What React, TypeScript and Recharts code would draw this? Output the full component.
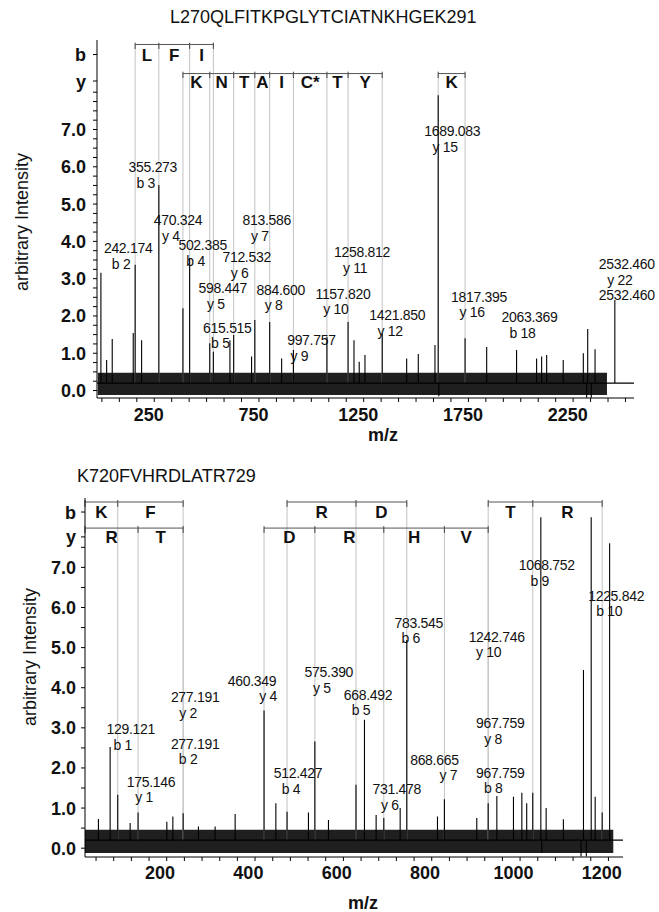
import React from "react";
import {
  ComposedChart,
  Line,
  XAxis,
  YAxis,
  ReferenceLine,
  ReferenceArea,
  Scatter,
} from "recharts";

const FONT = '"Liberation Sans", Arial, Helvetica, sans-serif';

// ---------- top spectrum: L270QLFITKPGLYTCIATNKHGEK291 ----------
// [m/z, intensity] (negative = downward spikes)
const topPeaks: [number, number][] = [
  [78.7, 3.16], [106, 0.82], [132.7, 1.38], [233, 1.54], [242.174, 3.37],
  [273, 1.35], [355.273, 5.51], [470.324, 2.21], [502.385, 3.55],
  [598.447, 1.27], [615.515, 1.04], [694.7, 1.35], [712.532, 1.49],
  [798, 0.91], [813.586, 1.89], [884.6, 1.84], [941.6, 0.86], [997.757, 1.09],
  [1157.82, 1.44], [1258.812, 1.84], [1287, 1.35], [1312, 0.77],
  [1339.5, 0.95], [1421.85, 1.53], [1538.6, 0.86], [1594, 0.98],
  [1673.7, 1.22], [1689.083, 7.92], [1692, -0.15], [1817.395, 1.4],
  [1920.6, 1.17], [2063.369, 1.09], [2159, 0.86], [2183, 0.91], [2207, 0.95],
  [2286, 0.82], [2382, 1.0], [2398, -0.19], [2403, 1.65], [2420, -0.19],
  [2438, 1.11], [2532.46, 2.43],
];
const topMasses = [
  242.174, 355.273, 470.324, 502.385, 598.447, 615.515, 712.532, 813.586,
  884.6, 997.757, 1157.82, 1258.812, 1421.85, 1689.083, 1817.395, 2063.369,
  2532.46,
];
const topIons = [
  ["b 2"], ["b 3"], ["y 4"], ["b 4"], ["y 5"], ["b 5"], ["y 6"], ["y 7"],
  ["y 8"], ["y 9"], ["y 10"], ["y 11"], ["y 12"], ["y 15"], ["y 16"],
  ["b 18"], ["y 22", "2532.460"],
];
const topBLadder = [{ marks: [242.174, 355.273, 502.385, 615.515], res: ["L", "F", "I"] }];
const topYLadder = [
  {
    marks: [470.324, 598.447, 712.532, 813.586, 884.6, 997.757, 1157.82, 1258.812, 1421.85],
    res: ["K", "N", "T", "A", "I", "C*", "T", "Y"],
  },
  { marks: [1689.083, 1817.395], res: ["K"] },
];

// ---------- bottom spectrum: K720FVHRDLATR729 ----------
const botPeaks: [number, number][] = [
  [85.4, 0.73], [111.9, 2.52], [129.121, 1.33], [157.2, 0.63], [175.146, 0.89],
  [240.3, 0.66], [253.9, 0.79], [277.191, 0.87], [311.8, 0.54], [349.6, 0.54],
  [394.9, 0.85], [460.349, 3.43], [487.1, 1.12], [512.427, 0.91], [560.9, 0.89],
  [575.39, 2.66], [606.2, 0.7], [668.492, 1.58], [687.7, 3.2], [714.1, 0.83],
  [731.478, 0.75], [768.5, 1.0], [783.545, 5.19], [853, 0.79], [868.665, 1.22],
  [942, 0.75], [967.759, 1.12], [987.4, 1.3], [1025, 1.28], [1044, 1.38],
  [1055, 1.12], [1068.752, 1.38], [1087, 8.25], [1089, -0.12], [1099, 1.0],
  [1138, 0.72], [1178, -0.21], [1183.5, 4.44], [1190, -0.21], [1201, 8.25],
  [1210, 1.28], [1225.842, 0.89], [1242.746, 7.6],
];
const botMasses = [
  129.121, 175.146, 277.191, 277.191, 460.349, 512.427, 575.39, 668.492,
  731.478, 783.545, 868.665, 967.759, 967.759, 1068.752, 1242.746, 1225.842,
];
const botIons = [
  ["b 1"], ["y 1"], ["y 2"], ["b 2"], ["y 4"], ["b 4"], ["y 5"], ["b 5"],
  ["y 6"], ["b 6"], ["y 7"], ["y 8"], ["b 8"], ["b 9"], ["y 10"], ["b 10"],
];
// null = N-/C-terminus, drawn from the axis
const botBLadder = [
  { marks: [null, 129.121, 277.191], res: ["K", "F"] },
  { marks: [512.427, 668.492, 783.545], res: ["R", "D"] },
  { marks: [967.759, 1068.752, 1225.842], res: ["T", "R"] },
];
const botYLadder = [
  { marks: [null, 175.146, 277.191], res: ["R", "T"] },
  { marks: [460.349, 575.39, 731.478, 868.665, 967.759], res: ["D", "R", "H", "V"] },
];

// ---------- layout ----------
// label placement: [dx px, intensity of first line, ion dx px]
const topLabelPlace: [number, number, number][] = [
  [-7, 3.82, -7], [-6, 5.99, -7], [-5, 4.57, -7], [13, 3.9, -7], [13, 2.75, -7],
  [14, 1.68, -7], [13, 3.58, -7], [12, 4.57, -7], [11, 2.7, -7], [18, 1.35, -12],
  [16, 2.6, -7], [14, 3.71, -7], [15, 2.02, -7], [14, 6.96, -7], [14, 2.51, -7],
  [13, 1.97, -7], [12, 3.39, -7],
];
const botLabelPlace: [number, number, number][] = [
  [13, 2.97, -8], [13, 1.66, -7], [12, 3.76, -7], [12, 2.6, -7], [-12, 4.18, 16],
  [11, 1.87, -7], [14, 4.39, -7], [12, 3.82, -7], [13, 1.47, -7], [12, 5.62, -8],
  [-10, 2.2, 14], [12, 3.11, -7], [12, 1.88, -7], [14, 7.05, -7], [-113, 5.27, -8],
  [14, 6.29, -7],
];

const TOP = {
  x: [60, 2624] as [number, number],
  y: [-0.2, 9.4] as [number, number],
  base: 0.2,
  band: [64, 2495, -0.12, 0.48],
  rows: { b: [9.28, 9.01], y: [8.5, 8.29] },
  xTicks: Array.from({ length: 31 }, (_, k) => ((k + 1) * 250) / 3),
  isMajorX: (v: number) => Math.abs((v - 250) / 500 - Math.round((v - 250) / 500)) < 1e-6,
  yTicks: [...Array.from({ length: 33 }, (_, k) => k * 0.25), 8.3, 9.01],
  yNames: { 8.3: "y", 9.01: "b" } as Record<number, string>,
  xDx: 12,
};
const BOT = {
  x: [55, 1273] as [number, number],
  y: [-0.22, 8.73] as [number, number],
  base: 0.2,
  band: [55, 1251, -0.12, 0.46],
  rows: { b: [8.63, 8.38], y: [7.98, 7.76] },
  xTicks: Array.from({ length: 30 }, (_, k) => (k + 2) * 40),
  isMajorX: (v: number) => v % 200 === 0,
  yTicks: [...Array.from({ length: 16 }, (_, k) => k * 0.5), 7.76, 8.38],
  yNames: { 7.76: "y", 8.38: "b" } as Record<number, string>,
  xDx: 11,
};

const sticks = (peaks: [number, number][], base: number, x0: number, x1: number) => {
  const pts = [{ mz: x0, i: base }];
  [...peaks]
    .sort((a, b) => a[0] - b[0])
    .forEach(([m, h]) => {
      pts.push({ mz: m, i: base }, { mz: m, i: h }, { mz: m, i: base });
    });
  pts.push({ mz: x1, i: base });
  return pts;
};

const annots = (masses: number[], ions: string[][], place: [number, number, number][]) =>
  masses.map((m, i) => ({
    mz: m,
    ly: place[i][1],
    dx: place[i][0],
    ionDx: place[i][2],
    lines: [m.toFixed(3), ...ions[i]],
  }));

const renderAnnot = (p: any) => {
  const { cx, cy, payload } = p;
  const x = cx + payload.dx;
  return (
    <g>
      {payload.lines.map((t: string, i: number) => (
        <text
          key={i}
          x={i === 1 ? x + payload.ionDx : x}
          y={cy + i * 15.5}
          dy="0.36em"
          textAnchor="middle"
          fontSize={14}
          letterSpacing={-0.3}
          fontFamily={FONT}
          fill="#111"
        >
          {t}
        </text>
      ))}
    </g>
  );
};

const renderLetter = (p: any) => (
  <text
    x={p.cx}
    y={p.cy}
    dy="0.36em"
    textAnchor="middle"
    fontSize={17}
    fontWeight="bold"
    fontFamily={FONT}
    fill="#111"
  >
    {p.payload.t}
  </text>
);

type Group = { marks: (number | null)[]; res: string[] };

const ladderLines = (groups: Group[], bracketY: number, cfg: typeof TOP, key: string) => {
  const out: React.ReactNode[] = [];
  groups.forEach((g, gi) => {
    const ms = g.marks.map((m) => (m === null ? cfg.x[0] : m));
    ms.forEach((m, j) => {
      if (g.marks[j] !== null) {
        out.push(
          <ReferenceLine
            key={`${key}v${gi}-${j}`}
            segment={[{ x: m, y: cfg.base }, { x: m, y: bracketY }]}
            stroke="#c2c2c2"
            strokeWidth={1}
            ifOverflow="visible"
          />
        );
      }
      out.push(
        <ReferenceLine
          key={`${key}t${gi}-${j}`}
          segment={[{ x: m, y: bracketY + 0.05 }, { x: m, y: bracketY - 0.12 }]}
          stroke="#444"
          strokeWidth={1}
          ifOverflow="visible"
        />
      );
    });
    out.push(
      <ReferenceLine
        key={`${key}h${gi}`}
        segment={[{ x: ms[0], y: bracketY }, { x: ms[ms.length - 1], y: bracketY }]}
        stroke="#555"
        strokeWidth={1}
        ifOverflow="visible"
      />
    );
  });
  return out;
};

const letters = (groups: Group[], textY: number, cfg: typeof TOP) =>
  groups.flatMap((g) => {
    const ms = g.marks.map((m) => (m === null ? cfg.x[0] : m));
    return g.res.map((t, j) => ({ mz: (ms[j] + ms[j + 1]) / 2, ly: textY, t }));
  });

const Panel = ({
  cfg,
  peaks,
  bRow,
  yRow,
  labels,
  width,
  height,
  margin,
  xAxisHeight,
  yTickMargin,
  xTickMargin,
}: any) => {
  const data = sticks(peaks, cfg.base, cfg.x[0], cfg.x[1]);
  const letterData = [
    ...letters(bRow, cfg.rows.b[1], cfg),
    ...letters(yRow, cfg.rows.y[1], cfg),
  ];
  const yTick = (p: any) => {
    const v = p.payload.value;
    const name = cfg.yNames[v];
    const t = name ?? (v <= 7 && Math.abs(v - Math.round(v)) < 1e-6 ? v.toFixed(1) : "");
    return (
      <text x={p.x} y={p.y} dy="0.36em" textAnchor="end" fontSize={18} fontWeight="bold" fontFamily={FONT} fill="#111">
        {t}
      </text>
    );
  };
  const xTick = (p: any) => {
    const v = p.payload.value;
    if (!cfg.isMajorX(v)) return <g />;
    return (
      <text x={p.x + cfg.xDx} y={p.y} dy="0.71em" textAnchor="middle" fontSize={18} fontWeight="bold" fontFamily={FONT} fill="#111">
        {Math.round(v)}
      </text>
    );
  };
  return (
    <ComposedChart width={width} height={height} margin={margin}>
      <XAxis
        dataKey="mz"
        type="number"
        domain={cfg.x}
        ticks={cfg.xTicks}
        interval={0}
        tick={xTick}
        tickSize={4}
        tickMargin={xTickMargin}
        height={xAxisHeight}
        stroke="#000"
      />
      <YAxis
        type="number"
        domain={cfg.y}
        ticks={cfg.yTicks}
        interval={0}
        tick={yTick}
        tickSize={4}
        tickMargin={yTickMargin}
        width={50}
        stroke="#000"
      />
      {ladderLines(bRow, cfg.rows.b[0], cfg, "b")}
      {ladderLines(yRow, cfg.rows.y[0], cfg, "y")}
      <ReferenceArea
        x1={cfg.band[0]}
        x2={cfg.band[1]}
        y1={cfg.band[2]}
        y2={cfg.band[3]}
        fill="#000"
        fillOpacity={0.88}
        stroke="none"
        ifOverflow="visible"
      />
      <Line
        data={data}
        dataKey="i"
        type="linear"
        stroke="#000"
        strokeWidth={1.1}
        dot={false}
        isAnimationActive={false}
      />
      <Scatter data={letterData} dataKey="ly" shape={renderLetter} isAnimationActive={false} />
      <Scatter data={labels} dataKey="ly" shape={renderAnnot} isAnimationActive={false} />
    </ComposedChart>
  );
};

const txt = (style: React.CSSProperties, children: string) => (
  <div style={{ position: "absolute", whiteSpace: "nowrap", color: "#111", fontFamily: FONT, ...style }}>{children}</div>
);

export default function App() {
  return (
    <div style={{ position: "absolute", left: 0, top: 0, width: 659, height: 912, background: "#fff", overflow: "hidden" }}>
      <div style={{ position: "absolute", left: 0, top: 0 }}>
        <Panel
          cfg={TOP}
          peaks={topPeaks}
          bRow={topBLadder}
          yRow={topYLadder}
          labels={annots(topMasses, topIons, topLabelPlace)}
          width={659}
          height={445}
          margin={{ top: 40, right: 25, bottom: 0, left: 47 }}
          xAxisHeight={47}
          yTickMargin={7}
          xTickMargin={6}
        />
      </div>
      <div style={{ position: "absolute", left: 0, top: 455 }}>
        <Panel
          cfg={BOT}
          peaks={botPeaks}
          bRow={botBLadder}
          yRow={botYLadder}
          labels={annots(botMasses, botIons, botLabelPlace)}
          width={659}
          height={457}
          margin={{ top: 43, right: 36, bottom: 0, left: 35 }}
          xAxisHeight={55}
          yTickMargin={5}
          xTickMargin={5}
        />
      </div>
      {txt({ left: 170, top: 8, fontSize: 18, lineHeight: "18px" }, "L270QLFITKPGLYTCIATNKHGEK291")}
      {txt({ left: 77, top: 467, fontSize: 18, lineHeight: "18px" }, "K720FVHRDLATR729")}
      {txt(
        { left: -58, top: 212, width: 160, textAlign: "center", fontSize: 18, lineHeight: "20px", transform: "rotate(-90deg)" },
        "arbitrary Intensity"
      )}
      {txt(
        { left: -50, top: 647, width: 160, textAlign: "center", fontSize: 18, lineHeight: "20px", transform: "rotate(-90deg)" },
        "arbitrary Intensity"
      )}
      {txt({ left: 353, top: 425, width: 60, textAlign: "center", fontSize: 18, fontWeight: "bold", lineHeight: "20px" }, "m/z")}
      {txt({ left: 333, top: 893, width: 60, textAlign: "center", fontSize: 18, fontWeight: "bold", lineHeight: "20px" }, "m/z")}
    </div>
  );
}
